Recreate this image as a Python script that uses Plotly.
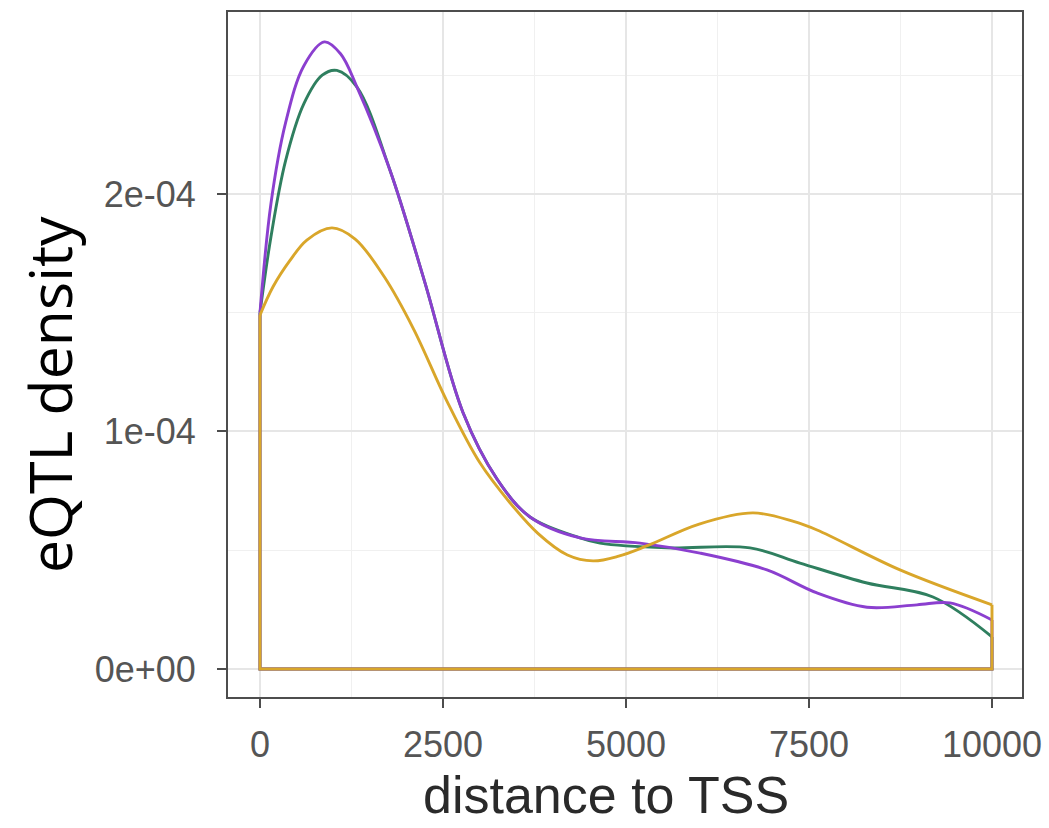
import plotly.graph_objects as go

# distance to TSS (bp) and eQTL density (units of 1e-4)
purple_x = [0, 150, 350, 600, 880, 1100, 1325, 1776, 2250, 2773, 3238, 3689, 4372, 5191, 6011, 6926, 7610, 8292, 8975, 9426, 10000]
purple_y = [1.50, 1.96, 2.30, 2.54, 2.64, 2.59, 2.45, 2.10, 1.63, 1.08, 0.80, 0.64, 0.552, 0.53, 0.488, 0.417, 0.32, 0.26, 0.27, 0.278, 0.206]

green_x = [0, 150, 350, 600, 850, 1050, 1325, 1776, 2250, 2773, 3238, 3689, 4372, 4645, 5560, 6694, 7377, 8292, 9194, 10000]
green_y = [1.50, 1.82, 2.14, 2.38, 2.50, 2.52, 2.45, 2.10, 1.63, 1.08, 0.80, 0.64, 0.552, 0.53, 0.51, 0.51, 0.446, 0.362, 0.303, 0.135]

gold_x = [0, 180, 410, 640, 983, 1300, 1700, 2100, 2550, 3000, 3415, 3800, 4200, 4550, 4900, 5300, 6000, 6735, 7300, 7610, 8743, 10000]
gold_y = [1.49, 1.61, 1.72, 1.806, 1.857, 1.81, 1.65, 1.43, 1.13, 0.87, 0.70, 0.57, 0.48, 0.455, 0.475, 0.52, 0.61, 0.657, 0.62, 0.585, 0.417, 0.27]

series = [
    ("green", green_x, green_y, "#2f7f5f"),
    ("purple", purple_x, purple_y, "#8b3fcf"),
    ("gold", gold_x, gold_y, "#d9a62a"),
]

x_ticks = [0, 2500, 5000, 7500, 10000]
x_tick_text = ["0", "2500", "5000", "7500", "10000"]
y_ticks = [0, 1e-4, 2e-4]
y_tick_text = ["0e+00", "1e-04", "2e-04"]

SCALE = 1e-4
fig = go.Figure()
for name, xs, ys, col in series:
    yv = [v * SCALE for v in ys]
    # density curve
    fig.add_trace(go.Scatter(x=xs, y=yv, mode="lines", line=dict(color=col, width=2.9, shape="spline", smoothing=1.0),
                             showlegend=False, hoverinfo="skip"))
    # closing outline of the density polygon (ends down to baseline, baseline)
    fig.add_trace(go.Scatter(x=[xs[-1], xs[-1], xs[0], xs[0]], y=[yv[-1], 0, 0, yv[0]], mode="lines",
                             line=dict(color=col, width=2.9), showlegend=False, hoverinfo="skip"))

axis_common = dict(
    showline=True, mirror=True, linecolor="#4d4d4d", linewidth=2,
    ticks="outside", ticklen=9, tickwidth=2, tickcolor="#4d4d4d",
    showgrid=True, gridcolor="#e6e6e6", gridwidth=1.6, zeroline=False, automargin=False,
    tickfont=dict(family="Liberation Sans, Arial, sans-serif", size=36, color="#555555"),
)

fig.update_xaxes(**axis_common, range=[-437, 10410], tickvals=x_ticks, ticktext=x_tick_text,
                 ticklabelstandoff=6,
                 minor=dict(dtick=1250, tick0=1250, showgrid=True, gridcolor="#f0f0f0", gridwidth=1, ticks=""))
fig.update_yaxes(**axis_common, range=[-0.118e-4, 2.766e-4], tickvals=y_ticks, ticktext=y_tick_text,
                 ticklabelstandoff=14,
                 minor=dict(dtick=0.5e-4, tick0=0.5e-4, showgrid=True, gridcolor="#f0f0f0", gridwidth=1, ticks=""))

# axis titles placed as in the reference (positions in paper fractions of the plot area)
fig.add_annotation(text="distance to TSS", xref="paper", yref="paper", x=0.476, y=-0.143,
                   xanchor="center", yanchor="middle", showarrow=False,
                   font=dict(family="Liberation Sans, Arial, sans-serif", size=52, color="#2a2a2a"))
fig.add_annotation(text="eQTL density", xref="paper", yref="paper", x=-0.2254, y=0.4409,
                   xanchor="center", yanchor="middle", showarrow=False, textangle=-90,
                   font=dict(family="Open Sans, Noto Sans, sans-serif", size=59, color="#000000"))

fig.update_layout(
    width=1049, height=828,
    margin=dict(l=228, r=27, t=12, b=131),
    plot_bgcolor="white", paper_bgcolor="white",
)

fig.write_html("out.html")
